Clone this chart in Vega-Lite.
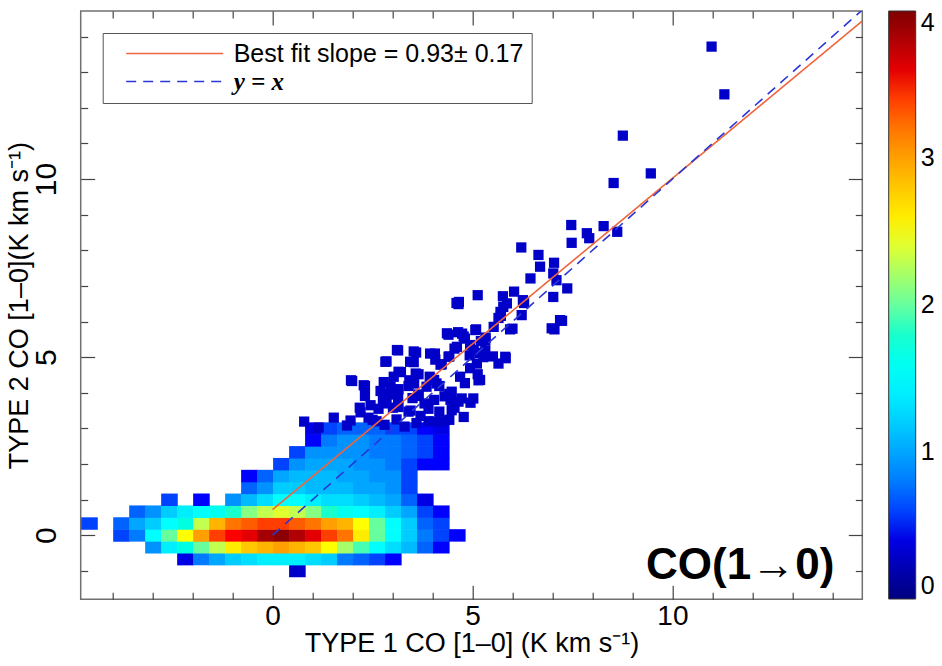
{
  "$schema": "https://vega.github.io/schema/vega-lite/v6.json",
  "autosize": {"type": "none"},
  "padding": {"left": 80.7, "top": 11, "right": 79.7, "bottom": 66.7},
  "width": 781.6,
  "height": 588.3,
  "background": "white",
  "config": {
    "font": "Liberation Sans",
    "view": {"stroke": "#707070", "strokeWidth": 1.5},
    "axis": {"domain": false, "grid": false, "tickColor": "#444", "tickWidth": 1.2, "labelFont": "Liberation Sans", "labelFontSize": 30, "labelColor": "black", "titleFont": "Liberation Sans", "titleFontSize": 28, "titleFontWeight": "normal", "titleColor": "black"}
  },
  "datasets": {
    "cells": [
      {"x":0.4,"y":-1.1667,"v":0.3},
      {"x":-2.4,"y":-0.8333,"v":0.4},{"x":-2.0,"y":-0.8333,"v":0.8},{"x":-1.6,"y":-0.8333,"v":1.0},{"x":-1.2,"y":-0.8333,"v":1.2},{"x":-0.8,"y":-0.8333,"v":1.3},{"x":-0.4,"y":-0.8333,"v":1.4},{"x":0,"y":-0.8333,"v":1.4},{"x":0.4,"y":-0.8333,"v":1.4},{"x":0.8,"y":-0.8333,"v":1.3},{"x":1.2,"y":-0.8333,"v":1.2},{"x":1.6,"y":-0.8333,"v":0.8},{"x":2.0,"y":-0.8333,"v":0.7},{"x":2.4,"y":-0.8333,"v":0.6},{"x":2.8,"y":-0.8333,"v":0.5},
      {"x":-3.2,"y":-0.5,"v":0.9},{"x":-2.8,"y":-0.5,"v":1.4},{"x":-2.4,"y":-0.5,"v":1.7},{"x":-2.0,"y":-0.5,"v":2.0},{"x":-1.6,"y":-0.5,"v":2.3},{"x":-1.2,"y":-0.5,"v":2.6},{"x":-0.8,"y":-0.5,"v":2.8},{"x":-0.4,"y":-0.5,"v":2.9},{"x":0,"y":-0.5,"v":3.0},{"x":0.4,"y":-0.5,"v":2.9},{"x":0.8,"y":-0.5,"v":2.8},{"x":1.2,"y":-0.5,"v":2.5},{"x":1.6,"y":-0.5,"v":2.2},{"x":2.0,"y":-0.5,"v":1.9},{"x":2.4,"y":-0.5,"v":1.5},{"x":2.8,"y":-0.5,"v":1.3},{"x":3.2,"y":-0.5,"v":1.1},{"x":3.6,"y":-0.5,"v":0.7},{"x":4.0,"y":-0.5,"v":0.5},
      {"x":-4.0,"y":-0.1667,"v":0.6},{"x":-3.6,"y":-0.1667,"v":0.8},{"x":-3.2,"y":-0.1667,"v":1.5},{"x":-2.8,"y":-0.1667,"v":2.0},{"x":-2.4,"y":-0.1667,"v":2.5},{"x":-2.0,"y":-0.1667,"v":3.0},{"x":-1.6,"y":-0.1667,"v":3.4},{"x":-1.2,"y":-0.1667,"v":3.5},{"x":-0.8,"y":-0.1667,"v":3.6},{"x":-0.4,"y":-0.1667,"v":3.85},{"x":0,"y":-0.1667,"v":3.95},{"x":0.4,"y":-0.1667,"v":3.8},{"x":0.8,"y":-0.1667,"v":3.6},{"x":1.2,"y":-0.1667,"v":3.4},{"x":1.6,"y":-0.1667,"v":3.2},{"x":2.0,"y":-0.1667,"v":2.6},{"x":2.4,"y":-0.1667,"v":2.0},{"x":2.8,"y":-0.1667,"v":1.5},{"x":3.2,"y":-0.1667,"v":1.2},{"x":3.6,"y":-0.1667,"v":0.8},{"x":4.0,"y":-0.1667,"v":0.6},{"x":4.4,"y":-0.1667,"v":0.5},
      {"x":-4.8,"y":0.1667,"v":0.6},{"x":-4.0,"y":0.1667,"v":0.7},{"x":-3.6,"y":0.1667,"v":1.0},{"x":-3.2,"y":0.1667,"v":1.2},{"x":-2.8,"y":0.1667,"v":1.5},{"x":-2.4,"y":0.1667,"v":1.7},{"x":-2.0,"y":0.1667,"v":2.3},{"x":-1.6,"y":0.1667,"v":2.9},{"x":-1.2,"y":0.1667,"v":3.2},{"x":-0.8,"y":0.1667,"v":3.3},{"x":-0.4,"y":0.1667,"v":3.4},{"x":0,"y":0.1667,"v":3.4},{"x":0.4,"y":0.1667,"v":3.3},{"x":0.8,"y":0.1667,"v":3.2},{"x":1.2,"y":0.1667,"v":3.0},{"x":1.6,"y":0.1667,"v":2.9},{"x":2.0,"y":0.1667,"v":2.5},{"x":2.4,"y":0.1667,"v":2.0},{"x":2.8,"y":0.1667,"v":1.5},{"x":3.2,"y":0.1667,"v":1.2},{"x":3.6,"y":0.1667,"v":0.7},{"x":4.0,"y":0.1667,"v":0.6},
      {"x":-3.6,"y":0.5,"v":0.7},{"x":-3.2,"y":0.5,"v":0.9},{"x":-2.8,"y":0.5,"v":1.2},{"x":-2.4,"y":0.5,"v":1.4},{"x":-2.0,"y":0.5,"v":1.5},{"x":-1.6,"y":0.5,"v":1.6},{"x":-1.2,"y":0.5,"v":1.8},{"x":-0.8,"y":0.5,"v":2.1},{"x":-0.4,"y":0.5,"v":2.3},{"x":0,"y":0.5,"v":2.4},{"x":0.4,"y":0.5,"v":2.3},{"x":0.8,"y":0.5,"v":2.1},{"x":1.2,"y":0.5,"v":1.8},{"x":1.6,"y":0.5,"v":1.6},{"x":2.0,"y":0.5,"v":1.5},{"x":2.4,"y":0.5,"v":1.4},{"x":2.8,"y":0.5,"v":1.2},{"x":3.2,"y":0.5,"v":1.0},{"x":3.6,"y":0.5,"v":0.6},{"x":4.0,"y":0.5,"v":0.5},
      {"x":-2.8,"y":0.8333,"v":0.6},{"x":-2.0,"y":0.8333,"v":0.5},{"x":-1.2,"y":0.8333,"v":0.9},{"x":-0.8,"y":0.8333,"v":1.1},{"x":-0.4,"y":0.8333,"v":1.3},{"x":0,"y":0.8333,"v":1.5},{"x":0.4,"y":0.8333,"v":1.5},{"x":0.8,"y":0.8333,"v":1.4},{"x":1.2,"y":0.8333,"v":1.3},{"x":1.6,"y":0.8333,"v":1.3},{"x":2.0,"y":0.8333,"v":1.2},{"x":2.4,"y":0.8333,"v":1.1},{"x":2.8,"y":0.8333,"v":1.0},{"x":3.2,"y":0.8333,"v":0.7},{"x":3.6,"y":0.8333,"v":0.4},
      {"x":-0.8,"y":1.1667,"v":0.7},{"x":-0.4,"y":1.1667,"v":0.9},{"x":0,"y":1.1667,"v":1.2},{"x":0.4,"y":1.1667,"v":1.2},{"x":0.8,"y":1.1667,"v":1.1},{"x":1.2,"y":1.1667,"v":1.1},{"x":1.6,"y":1.1667,"v":1.1},{"x":2.0,"y":1.1667,"v":1.0},{"x":2.4,"y":1.1667,"v":1.0},{"x":2.8,"y":1.1667,"v":0.9},{"x":3.2,"y":1.1667,"v":0.6},
      {"x":-0.8,"y":1.5,"v":0.5},{"x":-0.4,"y":1.5,"v":0.7},{"x":0,"y":1.5,"v":1.0},{"x":0.4,"y":1.5,"v":1.1},{"x":0.8,"y":1.5,"v":1.1},{"x":1.2,"y":1.5,"v":1.1},{"x":1.6,"y":1.5,"v":1.0},{"x":2.0,"y":1.5,"v":1.0},{"x":2.4,"y":1.5,"v":0.9},{"x":2.8,"y":1.5,"v":0.9},{"x":3.2,"y":1.5,"v":0.6},
      {"x":0,"y":1.8333,"v":0.6},{"x":0.4,"y":1.8333,"v":0.9},{"x":0.8,"y":1.8333,"v":1.0},{"x":1.2,"y":1.8333,"v":1.0},{"x":1.6,"y":1.8333,"v":1.0},{"x":2.0,"y":1.8333,"v":0.9},{"x":2.4,"y":1.8333,"v":0.9},{"x":2.8,"y":1.8333,"v":0.8},{"x":3.2,"y":1.8333,"v":0.6},{"x":3.6,"y":1.8333,"v":0.5},{"x":4.0,"y":1.8333,"v":0.5},
      {"x":0.4,"y":2.1667,"v":0.6},{"x":0.8,"y":2.1667,"v":0.9},{"x":1.2,"y":2.1667,"v":0.9},{"x":1.6,"y":2.1667,"v":0.9},{"x":2.0,"y":2.1667,"v":0.9},{"x":2.4,"y":2.1667,"v":0.8},{"x":2.8,"y":2.1667,"v":0.8},{"x":3.2,"y":2.1667,"v":0.7},{"x":3.6,"y":2.1667,"v":0.6},{"x":4.0,"y":2.1667,"v":0.5},
      {"x":0.8,"y":2.5,"v":0.5},{"x":1.2,"y":2.5,"v":0.8},{"x":1.6,"y":2.5,"v":0.9},{"x":2.0,"y":2.5,"v":0.9},{"x":2.4,"y":2.5,"v":0.8},{"x":2.8,"y":2.5,"v":0.8},{"x":3.2,"y":2.5,"v":0.7},{"x":3.6,"y":2.5,"v":0.6},{"x":4.0,"y":2.5,"v":0.5},
      {"x":0.8,"y":2.8333,"v":0.4},{"x":1.2,"y":2.8333,"v":0.6},{"x":1.6,"y":2.8333,"v":0.7},{"x":2.0,"y":2.8333,"v":0.7},{"x":2.4,"y":2.8333,"v":0.7},{"x":2.8,"y":2.8333,"v":0.6},{"x":3.2,"y":2.8333,"v":0.6},{"x":3.6,"y":2.8333,"v":0.5},{"x":4.0,"y":2.8333,"v":0.4}
    ],
    "points": [
      {"x":10.98,"y":13.72},{"x":11.3,"y":12.38},{"x":8.76,"y":11.22},{"x":9.46,"y":10.16},{"x":8.53,"y":9.89},
      {"x":7.47,"y":8.71},{"x":7.86,"y":8.48},{"x":7.92,"y":8.34},{"x":8.28,"y":8.68},{"x":8.62,"y":8.52},{"x":7.48,"y":8.21},
      {"x":6.22,"y":8.08},{"x":6.65,"y":7.87},{"x":6.69,"y":7.54},{"x":7.04,"y":7.65},{"x":7.02,"y":7.35},{"x":6.45,"y":7.21},{"x":7.1,"y":7.16},
      {"x":7.37,"y":6.93},{"x":7.02,"y":6.69},{"x":6.04,"y":6.84},{"x":5.76,"y":6.71},{"x":5.13,"y":6.74},{"x":4.6,"y":6.52},{"x":4.66,"y":6.55},
      {"x":6.26,"y":6.6},{"x":6.23,"y":6.18},{"x":5.86,"y":6.51},{"x":5.7,"y":6.27},{"x":5.65,"y":6.1},{"x":7.19,"y":6.04},{"x":6.98,"y":5.81},
      {"x":5.94,"y":5.78},{"x":5.53,"y":5.85},{"x":4.36,"y":5.67},{"x":4.64,"y":5.7},{"x":4.78,"y":5.58},{"x":5.07,"y":5.76},{"x":5.33,"y":5.55},{"x":5.21,"y":5.45},
      {"x":4.61,"y":5.29},{"x":4.94,"y":5.34},{"x":5.03,"y":5.2},{"x":5.18,"y":5.12},{"x":4.93,"y":5.05},{"x":5.27,"y":5.0},
      {"x":5.82,"y":5.01},{"x":5.65,"y":4.82},{"x":5.11,"y":4.82},{"x":4.94,"y":4.69},{"x":4.69,"y":4.45},{"x":5.15,"y":4.35},
      {"x":3.11,"y":5.2},{"x":3.53,"y":5.16},{"x":2.82,"y":4.87},{"x":3.44,"y":4.87},{"x":3.94,"y":5.1},{"x":4.07,"y":4.93},{"x":4.2,"y":4.79},{"x":4.4,"y":5.01},
      {"x":3.15,"y":4.59},{"x":3.03,"y":4.45},{"x":3.58,"y":4.54},{"x":3.42,"y":4.35},{"x":3.54,"y":4.26},{"x":3.93,"y":4.45},{"x":4.1,"y":4.26},{"x":3.85,"y":4.17},
      {"x":4.48,"y":4.03},{"x":4.73,"y":3.84},{"x":5.02,"y":3.84},{"x":1.96,"y":4.35},{"x":2.28,"y":4.21},
      {"x":2.78,"y":4.3},{"x":2.95,"y":4.18},{"x":2.7,"y":4.05},{"x":2.9,"y":3.95},{"x":3.15,"y":4.1},
      {"x":2.45,"y":3.65},{"x":2.65,"y":3.55},{"x":2.85,"y":3.7},{"x":3.15,"y":3.6},
      {"x":3.5,"y":3.85},{"x":3.65,"y":3.95},{"x":3.8,"y":3.7},{"x":3.9,"y":3.55},{"x":3.45,"y":3.5},{"x":3.7,"y":3.35},
      {"x":4.3,"y":3.9},{"x":4.45,"y":3.8},{"x":4.65,"y":3.75},{"x":4.95,"y":3.72},{"x":4.48,"y":3.51},{"x":4.78,"y":3.32},
      {"x":1.53,"y":3.3},{"x":1.95,"y":3.22},{"x":2.2,"y":3.45},{"x":2.4,"y":3.3},
      {"x":4.2,"y":3.2},{"x":3.9,"y":3.2},{"x":2.8,"y":3.1},{"x":3.1,"y":3.25},{"x":3.3,"y":3.05},{"x":3.6,"y":3.15},{"x":2.6,"y":3.2},
      {"x":0.79,"y":3.19},{"x":1.15,"y":3.02},{"x":1.86,"y":3.08},{"x":2.5,"y":3.24},{"x":4.42,"y":3.24},{"x":4.04,"y":3.19},
      {"x":2.18,"y":3.58},{"x":4.17,"y":3.47},{"x":4.55,"y":3.58},{"x":3.4,"y":3.47},{"x":3.01,"y":3.58},{"x":2.31,"y":3.91},{"x":2.76,"y":3.8},{"x":3.14,"y":3.86},{"x":3.65,"y":3.91},{"x":4.04,"y":3.8},{"x":4.42,"y":3.97},
      {"x":2.31,"y":4.19},{"x":3.04,"y":4.08},{"x":3.4,"y":4.19},{"x":4.17,"y":4.19},{"x":4.81,"y":4.27},{"x":5.19,"y":4.36},{"x":5.13,"y":4.52},
      {"x":3.21,"y":4.58},{"x":3.65,"y":4.52},{"x":4.04,"y":4.36},{"x":1.99,"y":4.33},
      {"x":3.14,"y":5.19},{"x":3.59,"y":5.13},{"x":2.85,"y":4.88},{"x":3.53,"y":4.86},{"x":4.06,"y":5.1},{"x":4.23,"y":4.8},{"x":4.42,"y":5.02},
      {"x":5.83,"y":4.97},{"x":5.51,"y":5.02},{"x":5.32,"y":5.19},{"x":4.55,"y":5.24},
      {"x":4.4,"y":5.63},{"x":4.74,"y":5.66},{"x":5.09,"y":5.78},{"x":4.81,"y":5.52},{"x":5.32,"y":5.47},
      {"x":6.0,"y":5.8},{"x":7.05,"y":5.78},{"x":7.24,"y":6.02},{"x":5.71,"y":6.16},{"x":5.77,"y":6.41},{"x":6.29,"y":6.52},{"x":4.65,"y":6.49}
    ],
    "fit": [
      {"x":0,"y":0.72,"series":"Best fit slope = 0.93± 0.17"},
      {"x":14.75,"y":14.44,"series":"Best fit slope = 0.93± 0.17"}
    ],
    "identity": [
      {"x":0,"y":0,"series":"y = x"},
      {"x":14.75,"y":14.75,"series":"y = x"}
    ],
    "annotation": [
      {"label":"CO(1→0)"}
    ]
  },
  "layer": [
    {
      "data": {"name": "cells"},
      "mark": {"type": "rect"},
      "encoding": {
        "x": {"field": "x", "type": "quantitative", "bin": {"binned": true, "step": 0.415}, "axis": null, "scale": {"domain": [-4.8, 14.75], "nice": false, "zero": false}},
        "y": {"field": "y", "type": "quantitative", "bin": {"binned": true, "step": 0.35}, "axis": null, "scale": {"domain": [-1.8, 14.72], "nice": false, "zero": false}},
        "fill": {"field": "v", "type": "quantitative",
          "scale": {"domain": [0, 0.5, 1.5, 2.5, 3.5, 4], "range": ["#00007f", "#0000ff", "#00ffff", "#ffff00", "#ff0000", "#7f0000"]},
          "legend": {"type": "gradient", "orient": "right", "offset": 25, "title": null, "direction": "vertical", "gradientLength": 588, "gradientThickness": 27, "values": [0, 1, 2, 3, 4], "format": "d", "labelFontSize": 25, "labelFont": "Liberation Sans", "labelColor": "black", "labelOffset": 5, "gradientStrokeColor": "#333", "gradientStrokeWidth": 1}}
      }
    },
    {
      "data": {"name": "points"},
      "mark": {"type": "square", "size": 105, "filled": true, "color": "#0000c8", "opacity": 1},
      "encoding": {
        "x": {"field": "x", "type": "quantitative", "scale": {"domain": [-4.8, 14.75], "nice": false, "zero": false},
          "axis": {"orient": "bottom", "values": [0, 5, 10], "format": "d", "tickSize": -14, "labelPadding": 17, "labelFontSize": 28, "title": "TYPE 1 CO [1–0] (K km s⁻¹)", "titleFontSize": 27, "titlePadding": 0, "labelFlush": false}},
        "y": {"field": "y", "type": "quantitative", "scale": {"domain": [-1.8, 14.72], "nice": false, "zero": false},
          "axis": {"orient": "left", "values": [0, 5, 10], "format": "d", "tickSize": -14, "labelPadding": 39, "labelAngle": -90, "labelAlign": "center", "labelBaseline": "alphabetic", "title": "TYPE 2 CO [1–0](K km s⁻¹)", "titlePadding": -2, "titleFontSize": 27, "labelFlush": false}}
      }
    },
    {
      "data": {"name": "fit"},
      "mark": {"type": "line", "strokeWidth": 1.6, "clip": true},
      "encoding": {
        "x": {"field": "x", "type": "quantitative", "axis": {"orient": "bottom", "values": [-4,-3,-2,-1,1,2,3,4,6,7,8,9,11,12,13,14], "tickSize": -7, "labels": false, "title": null}},
        "y": {"field": "y", "type": "quantitative", "axis": {"orient": "left", "values": [-1,1,2,3,4,6,7,8,9,11,12,13,14], "tickSize": -7, "labels": false, "title": null}},
        "color": {"field": "series", "type": "nominal",
          "scale": {"domain": ["Best fit slope = 0.93± 0.17", "y = x"], "range": ["#f0643c", "#2a36d6"]},
          "legend": {"orient": "top-left", "offset": 22, "title": null, "strokeColor": "#555", "fillColor": "white", "padding": 8, "symbolType": "M0.3,0L10,0", "symbolSize": 400, "symbolStrokeWidth": 1.6, "labelFontSize": 25, "labelFont": "Liberation Sans", "labelColor": "black", "labelOffset": 98, "rowPadding": 2, "labelLimit": 0,
            "encode": {"labels": {"update": {"font": {"signal": "datum.label === 'y = x' ? 'Liberation Serif' : 'Liberation Sans'"}, "fontStyle": {"signal": "datum.label === 'y = x' ? 'italic' : 'normal'"}, "fontWeight": {"signal": "datum.label === 'y = x' ? 'bold' : 'normal'"}}}}}},
        "strokeDash": {"field": "series", "type": "nominal",
          "scale": {"domain": ["Best fit slope = 0.93± 0.17", "y = x"], "range": [[1, 0], [10, 7]]}}
      }
    },
    {
      "data": {"name": "identity"},
      "mark": {"type": "line", "strokeWidth": 1.6, "clip": true},
      "encoding": {
        "x": {"field": "x", "type": "quantitative", "axis": {"orient": "top", "values": [0, 5, 10], "tickSize": -14, "labels": false, "title": null}},
        "y": {"field": "y", "type": "quantitative", "axis": {"orient": "right", "values": [0, 5, 10], "tickSize": -14, "labels": false, "title": null}},
        "color": {"field": "series", "type": "nominal"},
        "strokeDash": {"field": "series", "type": "nominal"}
      }
    },
    {
      "mark": {"type": "rule", "color": "#7a7a7a", "strokeWidth": 1.6, "strokeDash": [10, 4, 2, 4]},
      "encoding": {"y": {"datum": 3, "type": "quantitative", "axis": null}}
    },
    {
      "data": {"name": "annotation"},
      "mark": {"type": "text", "align": "right", "baseline": "alphabetic", "font": "Liberation Sans", "fontSize": 44, "fontWeight": "bold", "color": "black"},
      "encoding": {
        "text": {"field": "label", "type": "nominal"},
        "x": {"datum": 14.05, "type": "quantitative", "axis": {"orient": "top", "values": [-4,-3,-2,-1,1,2,3,4,6,7,8,9,11,12,13,14], "tickSize": -7, "labels": false, "title": null}},
        "y": {"datum": -1.22, "type": "quantitative", "axis": {"orient": "right", "values": [-1,1,2,3,4,6,7,8,9,11,12,13,14], "tickSize": -7, "labels": false, "title": null}}
      }
    }
  ],
  "resolve": {"axis": {"x": "independent", "y": "independent"}}
}
